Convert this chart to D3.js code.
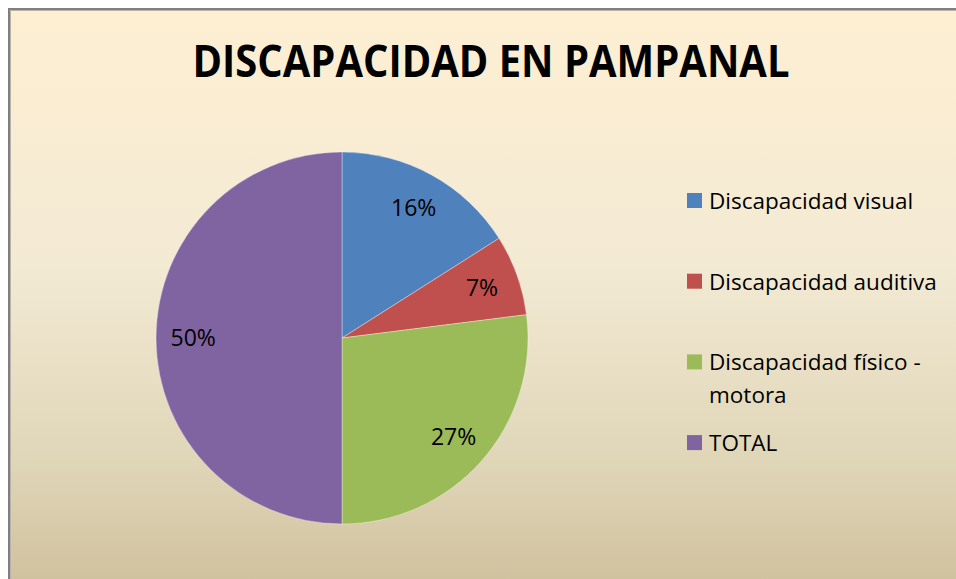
<!DOCTYPE html>
<html>
<head>
<meta charset="utf-8">
<script src="https://cdn.jsdelivr.net/npm/d3@7"></script>
<style>
  body { margin: 0; background: #fff; }
  svg { display: block; }
</style>
</head>
<body>
<svg id="chart" width="956" height="579"></svg>
<script>
  var categories = ["Discapacidad visual", "Discapacidad auditiva", "Discapacidad físico - motora", "TOTAL"];
  var values = [16, 7, 27, 50];
  var colors = ["#4F81BD", "#C0504D", "#9BBB59", "#8064A2"];
  var title = "DISCAPACIDAD EN PAMPANAL";

  var svg = d3.select("#chart"),
      width = +svg.attr("width"),
      height = +svg.attr("height"),
      font = "'Open Sans', 'Noto Sans', sans-serif";

  // parchment background
  var grad = svg.append("defs").append("linearGradient")
      .attr("id", "bg").attr("x1", 0).attr("y1", 0).attr("x2", 0).attr("y2", 1);
  grad.append("stop").attr("offset", "0%").attr("stop-color", "#FEEFD2");
  grad.append("stop").attr("offset", "45%").attr("stop-color", "#F3EAD4");
  grad.append("stop").attr("offset", "80%").attr("stop-color", "#DFD5B7");
  grad.append("stop").attr("offset", "100%").attr("stop-color", "#D1C29F");

  svg.append("rect")
      .attr("x", 8).attr("y", 8)
      .attr("width", width - 8).attr("height", height - 8)
      .attr("fill", "url(#bg)");
  svg.append("path")
      .attr("d", "M9," + height + "V9H" + width)
      .attr("fill", "none").attr("stroke", "#7f7f7f").attr("stroke-width", 2);
  svg.append("path")
      .attr("d", "M10.5," + height + "V10.5H" + width)
      .attr("fill", "none").attr("stroke", "#b8b4ab").attr("stroke-width", 1);

  svg.append("text")
      .attr("x", 491).attr("y", 77)
      .attr("text-anchor", "middle")
      .attr("font-family", font)
      .attr("font-weight", "bold")
      .attr("font-size", 45)
      .attr("textLength", 597)
      .attr("lengthAdjust", "spacingAndGlyphs")
      .attr("fill", "#000")
      .text(title);

  var radius = 186,
      g = svg.append("g").attr("transform", "translate(342,338)");

  var pie = d3.pie().sort(null).value(function(d) { return d; });
  var arc = d3.arc().innerRadius(0).outerRadius(radius);
  var labelArc = d3.arc().innerRadius(radius * 0.8).outerRadius(radius * 0.8);

  var slices = pie(values);

  g.selectAll(".slice")
      .data(slices)
      .enter().append("path")
      .attr("class", "slice")
      .attr("d", arc)
      .attr("fill", function(d, i) { return colors[i]; })
      .attr("stroke", "rgba(255,255,255,0.35)")
      .attr("stroke-width", 1);

  g.selectAll(".lbl")
      .data(slices)
      .enter().append("text")
      .attr("class", "lbl")
      .attr("transform", function(d) { return "translate(" + labelArc.centroid(d) + ")"; })
      .attr("dy", "0.36em")
      .attr("text-anchor", "middle")
      .attr("font-family", font)
      .attr("font-size", 23)
      .attr("fill", "#000")
      .text(function(d) { return d.data + "%"; });

  // legend
  var legend = svg.append("g").attr("transform", "translate(687,0)");
  var item = legend.selectAll(".item")
      .data(categories)
      .enter().append("g")
      .attr("class", "item")
      .attr("transform", function(d, i) { return "translate(0," + (193 + i * 80.7) + ")"; });

  item.append("rect")
      .attr("width", 15).attr("height", 15)
      .attr("fill", function(d, i) { return colors[i]; });

  item.append("text")
      .attr("x", 22).attr("y", 16)
      .attr("font-family", font)
      .attr("font-size", 22.5)
      .attr("fill", "#000")
      .each(function(d) {
        var t = d3.select(this), words = d.split(" "), line = [],
            tspan = t.append("tspan").attr("x", 22).attr("dy", 0);
        words.forEach(function(w) {
          line.push(w);
          tspan.text(line.join(" "));
          if (tspan.node().getComputedTextLength() > 242 && line.length > 1) {
            line.pop();
            tspan.text(line.join(" "));
            line = [w];
            tspan = t.append("tspan").attr("x", 22).attr("dy", 33).text(w);
          }
        });
      });
</script>
</body>
</html>
